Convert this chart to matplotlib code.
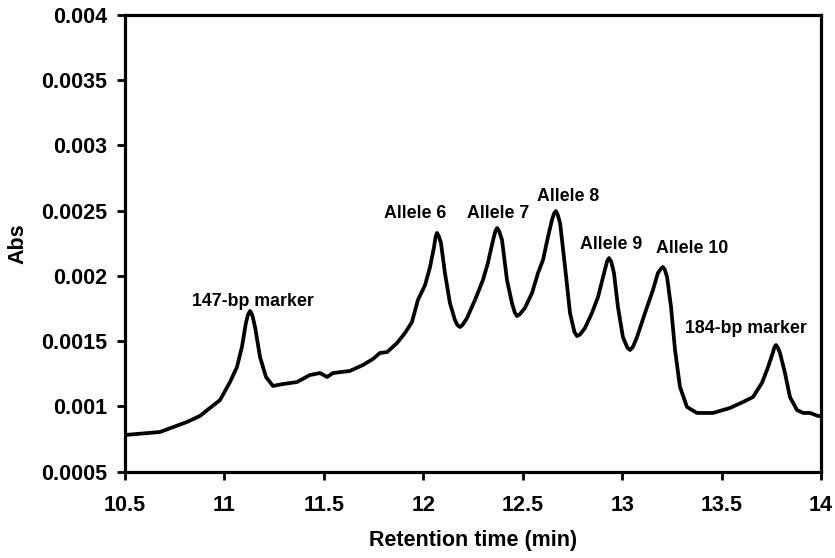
import numpy as np
import matplotlib
matplotlib.use('Agg')
import matplotlib.pyplot as plt

plt.rcParams['font.family'] = ['Liberation Sans', 'DejaVu Sans']
plt.rcParams['font.weight'] = 'bold'

# retention time (min) and absorbance
t = [10.500, 10.676, 10.812, 10.877, 10.927, 10.978, 11.028, 11.063, 11.088, 11.108,
     11.119, 11.129, 11.140, 11.154, 11.179, 11.209, 11.244, 11.295, 11.365, 11.430,
     11.481, 11.516, 11.546, 11.631, 11.697, 11.747, 11.782, 11.818, 11.868, 11.908,
     11.943, 11.973, 12.009, 12.034, 12.054, 12.062, 12.069, 12.078, 12.089, 12.109,
     12.134, 12.159, 12.172, 12.185, 12.198, 12.220, 12.260, 12.300, 12.325, 12.351,
     12.363, 12.371, 12.381, 12.396, 12.421, 12.446, 12.460, 12.471, 12.485, 12.511,
     12.547, 12.577, 12.602, 12.627, 12.647, 12.658, 12.667, 12.676, 12.688, 12.713,
     12.738, 12.760, 12.773, 12.788, 12.813, 12.848, 12.879, 12.904, 12.925, 12.934,
     12.945, 12.959, 12.979, 13.004, 13.026, 13.040, 13.054, 13.075, 13.115, 13.155,
     13.180, 13.195, 13.205, 13.214, 13.226, 13.246, 13.266, 13.291, 13.326, 13.376,
     13.457, 13.542, 13.608, 13.658, 13.703, 13.734, 13.759, 13.766, 13.774, 13.783,
     13.794, 13.819, 13.844, 13.879, 13.910, 13.945, 13.985, 14.000]
absorb = [0.000780, 0.000803, 0.000880, 0.000926, 0.000987, 0.001048, 0.001186, 0.001301, 0.001455, 0.001639,
          0.001705, 0.001731, 0.001700, 0.001608, 0.001378, 0.001225, 0.001156, 0.001171, 0.001186, 0.001240,
          0.001255, 0.001225, 0.001255, 0.001271, 0.001317, 0.001363, 0.001409, 0.001416, 0.001485, 0.001562,
          0.001646, 0.001815, 0.001930, 0.002068, 0.002221, 0.002300, 0.002329, 0.002305, 0.002252, 0.002022,
          0.001792, 0.001662, 0.001622, 0.001608, 0.001625, 0.001677, 0.001815, 0.001968, 0.002099, 0.002275,
          0.002345, 0.002367, 0.002345, 0.002275, 0.001968, 0.001792, 0.001720, 0.001692, 0.001705, 0.001754,
          0.001869, 0.002022, 0.002122, 0.002298, 0.002428, 0.002480, 0.002497, 0.002470, 0.002405, 0.002068,
          0.001715, 0.001570, 0.001539, 0.001550, 0.001600, 0.001715, 0.001838, 0.001991, 0.002115, 0.002137,
          0.002110, 0.002022, 0.001761, 0.001531, 0.001450, 0.001432, 0.001455, 0.001531, 0.001715, 0.001892,
          0.002022, 0.002055, 0.002068, 0.002050, 0.001991, 0.001761, 0.001432, 0.001148, 0.000995, 0.000949,
          0.000949, 0.000987, 0.001033, 0.001071, 0.001179, 0.001301, 0.001416, 0.001455, 0.001470, 0.001450,
          0.001409, 0.001255, 0.001071, 0.000972, 0.000949, 0.000949, 0.000926, 0.000926]

peak_names = ['147-bp marker', 'Allele 6', 'Allele 7', 'Allele 8', 'Allele 9', 'Allele 10', '184-bp marker']
label_x = [11.144, 11.958, 12.376, 12.726, 12.944, 13.354, 13.623]
label_y = [0.001807, 0.002482, 0.002482, 0.002608, 0.002237, 0.002213, 0.001593]

fig = plt.figure(figsize=(8.35, 5.58), dpi=100)
ax = fig.add_axes([0.1497, 0.155, 0.8335, 0.818])

ax.plot(t, absorb, color='black', linewidth=2.7, solid_joinstyle='round')

for name, lx, ly in zip(peak_names, label_x, label_y):
    ax.text(lx, ly, name, ha='center', va='center', fontsize=12.8, fontweight='bold')

ax.set_xlim(10.5, 14)
ax.set_ylim(0.0005, 0.004)
ax.set_xticks(np.arange(10.5, 14.01, 0.5))
ax.set_xticklabels(['10.5', '11', '11.5', '12', '12.5', '13', '13.5', '14'])
ax.set_yticks(np.arange(0.0005, 0.00401, 0.0005))
ax.set_yticklabels(['0.0005', '0.001', '0.0015', '0.002', '0.0025', '0.003', '0.0035', '0.004'])

for s in ax.spines.values():
    s.set_linewidth(2.3)
ax.tick_params(axis='both', direction='out', length=6, width=2, labelsize=15.5)
ax.tick_params(axis='x', pad=11)
ax.tick_params(axis='y', pad=7)

ax.set_xlabel('Retention time (min)', fontsize=15.5, fontweight='bold')
ax.set_ylabel('Abs', fontsize=15.5, fontweight='bold')
ax.xaxis.set_label_coords(0.5, -0.128)
ax.yaxis.set_label_coords(-0.138, 0.5)

fig.savefig('out.png', dpi=100)
